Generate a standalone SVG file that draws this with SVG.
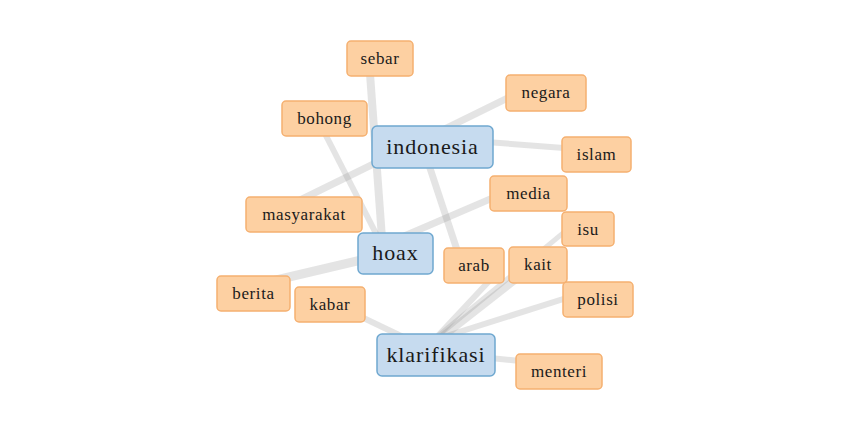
<svg xmlns="http://www.w3.org/2000/svg" width="851" height="432" viewBox="0 0 851 432">
<style>
.e{stroke:#8a8a8a;stroke-opacity:0.23;fill:none;stroke-linecap:butt}
.o rect{fill:#fdd0a2;stroke:#f5b070;stroke-width:1.5}
.b rect{fill:#c6dbef;stroke:#6fa8d0;stroke-width:1.5}
.o text{font-family:"Liberation Serif",serif;font-size:17px;letter-spacing:0.6px;fill:#1a1a1a;text-anchor:middle}
.b text{font-family:"Liberation Serif",serif;font-size:22px;letter-spacing:0.9px;fill:#1a1a1a;text-anchor:middle}
</style>
<rect width="851" height="432" fill="#fff"/>
<g id="edges">
<line class="e" x1="369" y1="60" x2="383" y2="252" stroke-width="8"/>
<line class="e" x1="318" y1="120" x2="387" y2="255" stroke-width="6"/>
<line class="e" x1="290" y1="205" x2="530" y2="87" stroke-width="7"/>
<line class="e" x1="460" y1="140" x2="590" y2="150" stroke-width="6"/>
<line class="e" x1="424" y1="150" x2="462" y2="265" stroke-width="7"/>
<line class="e" x1="395" y1="240" x2="525" y2="184" stroke-width="7"/>
<line class="e" x1="255" y1="285" x2="395" y2="252" stroke-width="9"/>
<line class="e" x1="330" y1="302" x2="420" y2="345" stroke-width="6"/>
<line class="e" x1="432" y1="341" x2="585" y2="215" stroke-width="5"/>
<line class="e" x1="438" y1="340" x2="525" y2="272" stroke-width="8"/>
<line class="e" x1="434" y1="340" x2="492" y2="278" stroke-width="6"/>
<line class="e" x1="440" y1="338" x2="595" y2="289" stroke-width="6"/>
<line class="e" x1="440" y1="353" x2="560" y2="365" stroke-width="6"/>
</g>
<g id="n-sebar" class="o"><rect x="347" y="41" width="66" height="35" rx="4"/><text x="380" y="63.5">sebar</text></g>
<g id="n-bohong" class="o"><rect x="282" y="101" width="85" height="35" rx="4"/><text x="324.5" y="123.5">bohong</text></g>
<g id="n-negara" class="o"><rect x="506" y="75" width="80" height="36" rx="4"/><text x="546" y="97.5">negara</text></g>
<g id="n-islam" class="o"><rect x="562" y="137" width="69" height="35" rx="4"/><text x="596.5" y="159.5">islam</text></g>
<g id="n-masyarakat" class="o"><rect x="246" y="197" width="116" height="35" rx="4"/><text x="304" y="219.5">masyarakat</text></g>
<g id="n-media" class="o"><rect x="490" y="176" width="77" height="35" rx="4"/><text x="528.5" y="198.5">media</text></g>
<g id="n-isu" class="o"><rect x="562" y="212" width="52" height="34" rx="4"/><text x="588" y="234.5">isu</text></g>
<g id="n-arab" class="o"><rect x="444" y="248" width="60" height="35" rx="4"/><text x="474" y="270.5">arab</text></g>
<g id="n-kait" class="o"><rect x="509" y="247" width="58" height="36" rx="4"/><text x="538" y="269.5">kait</text></g>
<g id="n-polisi" class="o"><rect x="563" y="282" width="70" height="35" rx="4"/><text x="598" y="304.5">polisi</text></g>
<g id="n-berita" class="o"><rect x="217" y="276" width="73" height="35" rx="4"/><text x="253.5" y="298.5">berita</text></g>
<g id="n-kabar" class="o"><rect x="295" y="287" width="70" height="35" rx="4"/><text x="330" y="309.5">kabar</text></g>
<g id="n-menteri" class="o"><rect x="516" y="354" width="86" height="35" rx="4"/><text x="559" y="376.5">menteri</text></g>
<g id="n-indonesia" class="b"><rect x="372" y="126" width="121" height="42" rx="5"/><text x="432.5" y="153.5">indonesia</text></g>
<g id="n-hoax" class="b"><rect x="358" y="233" width="75" height="41" rx="5"/><text x="395.5" y="260">hoax</text></g>
<g id="n-klarifikasi" class="b"><rect x="377" y="334" width="118" height="42" rx="5"/><text x="436" y="361.5">klarifikasi</text></g>
</svg>
